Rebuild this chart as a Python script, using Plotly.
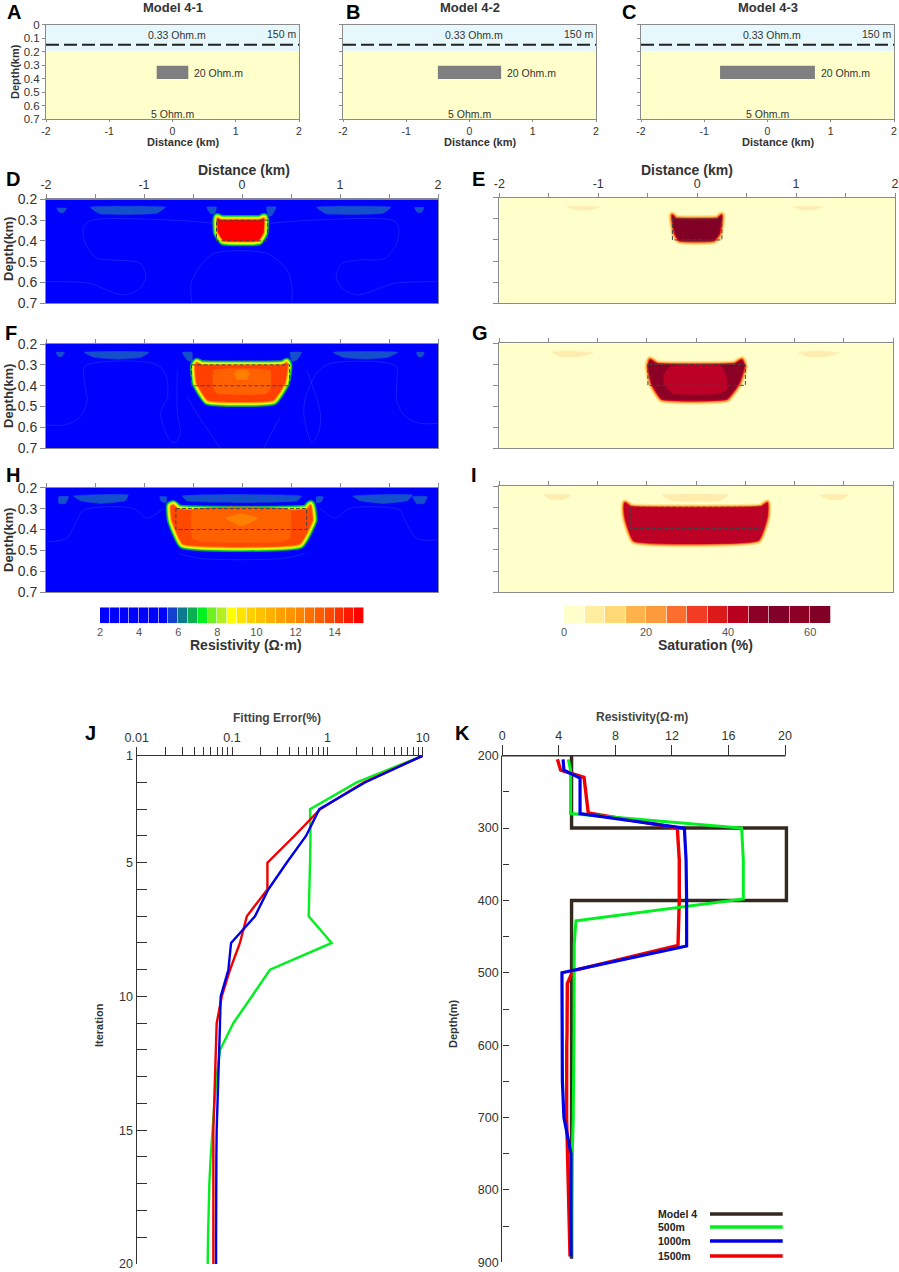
import plotly.graph_objects as go

W, H = 899, 1272

# ---- model panels A-C ----
MODEL_TITLES = ["Model 4-1", "Model 4-2", "Model 4-3"]
MODEL_BLOCK_HALF = [0.25, 0.5, 0.75]
MODEL_BLOCK_LABEL_X = [0.32, 0.58, 0.83]
MODEL_DEPTH_TICKS = [0, 0.1, 0.2, 0.3, 0.4, 0.5, 0.6, 0.7]
DIST_TICKS = [-2, -1, 0, 1, 2]
HALF_TICKS = [-2, -1.5, -1, -0.5, 0, 0.5, 1, 1.5, 2]
SECTION_DEPTH_TICKS = [0.2, 0.3, 0.4, 0.5, 0.6, 0.7]

# ---- colour classes ----
RES_EDGES = [2 + i * 0.5 for i in range(28)]
RES_COLORS = ["#0000FF"] * 7 + ["#1440D0", "#0E7A90", "#0DB050", "#00F020", "#70F020", "#B4F020", "#FFFF00",
              "#FFE400", "#FFD000", "#FFC000", "#FFB000", "#FFA000", "#FF9400", "#FF8400", "#FF7000",
              "#FF5C00", "#FF4800", "#FF3000", "#FF1800", "#FF0000"]
RES_TICKS = [2, 4, 6, 8, 10, 12, 14]
SAT_EDGES = [i * 5 for i in range(14)]
SAT_COLORS = ["#FFFFCC", "#FFEDA0", "#FED976", "#FEB24C", "#FD9A3C", "#FC6E2E", "#F23D24", "#DC1A1C",
              "#B8001F", "#8B0024", "#80002A", "#8B0024", "#800026"]
SAT_TICKS = [0, 20, 40, 60]

# ---- resistivity sections: outlines, (distance km, depth km) ----
D_CORE = [(-0.25, 0.29), (-0.22, 0.298), (0.19, 0.298), (0.225, 0.29), (0.22, 0.36), (0.17, 0.398), (-0.19, 0.398), (-0.245, 0.36)]
F_CORE = [(-0.46, 0.29), (-0.42, 0.30), (0.42, 0.30), (0.455, 0.29), (0.465, 0.305), (0.44, 0.385), (0.32, 0.47), (-0.35, 0.47), (-0.465, 0.385), (-0.48, 0.305)]
F_ZONE = [(-0.29, 0.325), (0.29, 0.325), (0.29, 0.42), (0.24, 0.44), (-0.24, 0.44), (-0.29, 0.42)]
F_SPOT = [(-0.08, 0.345), (-0.05, 0.325), (0.05, 0.325), (0.08, 0.345), (0.05, 0.37), (-0.05, 0.37)]
H_CORE = [(-0.70, 0.283), (-0.65, 0.303), (0.66, 0.303), (0.70, 0.283), (0.72, 0.354), (0.59, 0.469), (-0.604, 0.469), (-0.716, 0.354), (-0.727, 0.288)]
H_ZONE = [(-0.51, 0.305), (0.49, 0.305), (0.49, 0.44), (0.4, 0.46), (-0.42, 0.46), (-0.51, 0.44)]
H_SPOT = [(-0.17, 0.345), (0, 0.325), (0.17, 0.345), (0, 0.385)]

D_PATCHES = [
    [(-1.89, 0.243), (-1.79, 0.243), (-1.82, 0.264), (-1.86, 0.264)],
    [(-1.55, 0.238), (-0.78, 0.238), (-0.87, 0.267), (-1.45, 0.27)],
    [(-0.36, 0.238), (-0.26, 0.238), (-0.28, 0.27), (-0.32, 0.27)],
    [(0.25, 0.238), (0.35, 0.238), (0.30, 0.28), (0.27, 0.28)],
    [(0.76, 0.238), (1.52, 0.238), (1.44, 0.267), (0.86, 0.27)],
    [(1.76, 0.24), (1.86, 0.24), (1.83, 0.264), (1.79, 0.264)],
]
F_PATCHES = [
    [(-1.9, 0.24), (-1.81, 0.24), (-1.84, 0.261), (-1.87, 0.261)],
    [(-1.61, 0.24), (-0.95, 0.24), (-1.03, 0.264), (-1.27, 0.273), (-1.51, 0.264)],
    [(-0.61, 0.24), (-0.51, 0.24), (-0.51, 0.285), (-0.56, 0.277)],
    [(0.49, 0.24), (0.61, 0.24), (0.56, 0.277), (0.51, 0.285)],
    [(0.93, 0.24), (1.59, 0.24), (1.49, 0.264), (1.25, 0.273), (1.03, 0.264)],
    [(1.78, 0.24), (1.86, 0.24), (1.84, 0.261), (1.80, 0.261)],
]
H_PATCHES = [
    [(-1.87, 0.243), (-1.77, 0.243), (-1.8, 0.275), (-1.87, 0.275)],
    [(-1.72, 0.24), (-1.16, 0.235), (-1.19, 0.262), (-1.45, 0.275), (-1.65, 0.262)],
    [(-0.84, 0.243), (-0.77, 0.243), (-0.77, 0.272), (-0.82, 0.267)],
    [(-0.61, 0.24), (0.61, 0.24), (0.56, 0.264), (-0.56, 0.264)],
    [(0.76, 0.243), (0.83, 0.243), (0.81, 0.267), (0.76, 0.272)],
    [(1.13, 0.24), (1.74, 0.235), (1.69, 0.262), (1.44, 0.275), (1.2, 0.262)],
    [(1.74, 0.243), (1.89, 0.243), (1.86, 0.275), (1.78, 0.275)],
]
D_FAINT = [
    [(-0.29, 0.315), (-0.73, 0.30), (-1.55, 0.303), (-1.62, 0.339), (-1.6, 0.412), (-1.48, 0.484), (-1.31, 0.492), (-1.04, 0.508), (-0.98, 0.572), (-1.04, 0.628), (-1.21, 0.66), (-1.38, 0.636), (-1.55, 0.604), (-1.99, 0.596)],
    [(0.29, 0.315), (0.73, 0.30), (1.55, 0.303), (1.6, 0.339), (1.58, 0.412), (1.46, 0.484), (1.2, 0.492), (1.02, 0.508), (0.96, 0.572), (1.02, 0.628), (1.18, 0.66), (1.36, 0.636), (1.55, 0.604), (1.99, 0.596)],
    [(-0.51, 0.7), (-0.52, 0.604), (-0.43, 0.524), (-0.29, 0.46), (0.25, 0.46), (0.46, 0.54), (0.51, 0.62), (0.51, 0.7)],
]
F_FAINT = [
    [(-2, 0.588), (-1.81, 0.588), (-1.66, 0.553), (-1.58, 0.473), (-1.61, 0.377), (-1.6, 0.305), (-0.9, 0.293), (-0.78, 0.341), (-0.76, 0.452), (-0.83, 0.532), (-0.76, 0.644), (-0.69, 0.673), (-0.63, 0.628), (-0.66, 0.532), (-0.66, 0.325)],
    [(2, 0.58), (1.81, 0.58), (1.66, 0.545), (1.58, 0.473), (1.58, 0.377), (1.57, 0.305), (0.9, 0.293), (0.76, 0.341), (0.65, 0.452), (0.63, 0.532), (0.68, 0.644), (0.71, 0.673), (0.78, 0.628), (0.8, 0.532), (0.66, 0.325)],
    [(-0.56, 0.452), (-0.42, 0.564), (-0.22, 0.7)],
    [(0.39, 0.548), (0.22, 0.7)],
]
H_FAINT = [
    [(-1.99, 0.458), (-1.79, 0.442), (-1.68, 0.354), (-1.62, 0.307), (-1.11, 0.299), (-0.97, 0.346), (-0.8, 0.299)],
    [(1.99, 0.45), (1.78, 0.442), (1.66, 0.354), (1.61, 0.307), (1.1, 0.299), (0.95, 0.346), (0.8, 0.299)],
    [(-0.65, 0.514), (-0.43, 0.538), (0.42, 0.538), (0.64, 0.514)],
]

# ---- saturation sections ----
E_CORE = [(-0.25, 0.285), (-0.22, 0.30), (0.21, 0.30), (0.245, 0.285), (0.22, 0.37), (0.17, 0.40), (-0.18, 0.40), (-0.22, 0.37)]
G_CORE = [(-0.466, 0.28), (-0.4, 0.30), (0.395, 0.30), (0.463, 0.28), (0.486, 0.311), (0.43, 0.391), (0.31, 0.463), (-0.348, 0.463), (-0.449, 0.391), (-0.483, 0.311)]
G_ZONE = [(-0.25, 0.307), (0.25, 0.307), (0.31, 0.36), (0.31, 0.423), (0.21, 0.442), (-0.23, 0.442), (-0.33, 0.391), (-0.32, 0.34)]
I_CORE = [(-0.72, 0.282), (-0.67, 0.30), (0.665, 0.30), (0.72, 0.282), (0.715, 0.345), (0.63, 0.452), (-0.63, 0.455), (-0.71, 0.36), (-0.725, 0.31)]
E_PATCHES = [
    [(-1.32, 0.243), (-0.98, 0.243), (-1.08, 0.258), (-1.22, 0.258)],
    [(0.96, 0.243), (1.28, 0.243), (1.18, 0.258), (1.06, 0.258)],
]
G_PATCHES = [
    [(-1.47, 0.24), (-1.28, 0.235), (-1.04, 0.245), (-1.18, 0.264), (-1.38, 0.264)],
    [(1.04, 0.245), (1.24, 0.235), (1.46, 0.245), (1.32, 0.264), (1.14, 0.264)],
]
I_PATCHES = [
    [(-1.55, 0.242), (-1.27, 0.242), (-1.34, 0.263), (-1.48, 0.263)],
    [(-0.35, 0.242), (0.33, 0.242), (0.24, 0.269), (-0.26, 0.269)],
    [(1.26, 0.242), (1.55, 0.242), (1.48, 0.263), (1.34, 0.263)],
]

# dashed target box half widths for the three models
BOX_LIMITS = {"D": (-0.26, 0.26), "E": (-0.25, 0.25), "F": (-0.515, 0.485), "G": (-0.49, 0.5), "H": (-0.675, 0.66), "I": (-0.67, 0.665)}

# ---- J: fitting error per iteration ----
ITERATIONS = list(range(1, 21))
ERR_500 = [10, 2.03, 0.658, 0.665, 0.658, 0.647, 0.637, 1.11, 0.25, 0.161, 0.103, 0.0748, 0.069, 0.0653, 0.0622, 0.0597, 0.0578, 0.0565, 0.056, 0.0556]
ERR_1000 = [10, 2.48, 0.824, 0.597, 0.374, 0.24, 0.174, 0.0977, 0.0916, 0.076, 0.0748, 0.073, 0.072, 0.0702, 0.069, 0.0685, 0.068, 0.068, 0.068, 0.068]
ERR_1500 = [10, 2.39, 0.84, 0.45, 0.235, 0.235, 0.143, 0.121, 0.0953, 0.078, 0.069, 0.068, 0.0665, 0.065, 0.0637, 0.0637, 0.0637, 0.0637, 0.0637, 0.0637]
ERR_MINOR_TICKS = [0.01, 0.02, 0.03, 0.04, 0.05, 0.06, 0.07, 0.08, 0.09,
                   0.1, 0.2, 0.3, 0.4, 0.5, 0.6, 0.7, 0.8, 0.9,
                   1, 2, 3, 4, 5, 6, 7, 8, 9, 10]
ERR_LABELS = {0.01: "0.01", 0.1: "0.1", 1: "1", 10: "10"}
ITER_LABELS = {1: "1", 5: "5", 10: "10", 15: "15", 20: "20"}

# ---- K: resistivity against depth ----
MODEL_RHO = [4.9, 4.9, 20.1, 20.1, 4.9, 4.9]
MODEL_DEPTH = [200, 300, 300, 400, 400, 895]
RHO_500 = [4.67, 4.83, 4.83, 16.93, 17.05, 17.05, 5.21, 5.09, 5.07, 5.07, 5.02, 4.95, 4.93, 4.86]
DEPTH_500 = [205, 220, 280, 300, 344, 398, 428, 460, 580, 600, 700, 750, 800, 892]
RHO_1000 = [4.3, 4.36, 5.5, 5.5, 12.88, 13.0, 13.04, 13.04, 4.22, 4.22, 4.22, 4.25, 4.36, 4.86, 4.86, 4.86]
DEPTH_1000 = [205, 220, 231, 280, 300, 344, 400, 463, 500, 580, 600, 650, 700, 750, 800, 892]
RHO_1500 = [3.9, 4.13, 5.78, 5.97, 6.08, 12.38, 12.52, 12.52, 12.43, 5.0, 4.6, 4.58, 4.56, 4.55, 4.62, 4.7, 4.79]
DEPTH_1500 = [205, 220, 230, 261, 279, 300, 344, 400, 462, 497, 515, 584, 600, 700, 750, 800, 892]
RHO_TICKS = [0, 4, 8, 12, 16, 20]
DEPTH_TICKS = [200, 250, 300, 350, 400, 450, 500, 550, 600, 650, 700, 750, 800, 850, 900]
DEPTH_LABELS = {200: "200", 300: "300", 400: "400", 500: "500", 600: "600", 700: "700", 800: "800", 900: "900"}
LEGEND_NAMES = ["Model 4", "500m", "1000m", "1500m"]

FONT = "Liberation Sans"
TEXT = "#333333"
GRAY_AXIS = "#8A8A8A"
BLACK_LINE = "#33291F"
GREEN = "#00F020"
BLUE = "#0000E6"
RED = "#F00000"

fig = go.Figure()
layout_axes = {}
shapes = []
notes = []
axis_count = 0


def note(x, y, text, size=11, bold=False, color=TEXT, angle=0, xanchor="center"):
    label = f"<b>{text}</b>" if bold else text
    notes.append(dict(x=x / W, y=1 - y / H, xref="paper", yref="paper", text=label, showarrow=False,
                      xanchor=xanchor, yanchor="middle", textangle=angle, borderpad=0,
                      font=dict(family=FONT, size=size, color=color)))


def new_axes(left, right, top, bottom, xopts, yopts):
    global axis_count
    axis_count += 1
    n = axis_count
    xname, yname = f"xaxis{n}", f"yaxis{n}"
    xopts = dict(xopts, domain=[left / W, right / W], anchor=f"y{n}", automargin=False)
    yopts = dict(yopts, domain=[1 - bottom / H, 1 - top / H], anchor=f"x{n}", automargin=False)
    layout_axes[xname] = xopts
    layout_axes[yname] = yopts
    return f"x{n}", f"y{n}"


def frame_axis(**kw):
    base = dict(showgrid=False, zeroline=False, showline=True, mirror=True, linecolor=GRAY_AXIS, linewidth=1,
                ticks="outside", tickcolor=GRAY_AXIS, tickwidth=1, fixedrange=True,
                tickfont=dict(family=FONT, color=TEXT))
    base.update(kw)
    return base


def add_rect(xa, ya, x0, x1, y0, y1, color):
    shapes.append(dict(type="rect", xref=xa, yref=ya, x0=x0, x1=x1, y0=y0, y1=y1,
                       fillcolor=color, line=dict(width=0), layer="below"))


def add_poly(xa, ya, pts, color, width=0):
    closed = pts + pts[:1]
    fig.add_trace(go.Scatter(x=[p[0] for p in closed], y=[p[1] for p in closed], xaxis=xa, yaxis=ya,
                             mode="lines", fill="toself", fillcolor=color,
                             line=dict(color=color, width=width, shape="spline", smoothing=0.35),
                             showlegend=False, hoverinfo="skip"))


def add_section(left, right, top, bottom, bg, patches, patch_color, halos, core, core_color, zones, box, faint,
                show_x=False, show_y=False):
    xa, ya = new_axes(
        left, right, top, bottom,
        frame_axis(range=[-2, 2], side="top", tickvals=HALF_TICKS,
                   ticktext=[str(v) if v in DIST_TICKS else "" for v in HALF_TICKS],
                   showticklabels=show_x, ticklen=4, tickfont=dict(family=FONT, size=12.5, color=TEXT)),
        frame_axis(range=[0.7, 0.2], tickvals=SECTION_DEPTH_TICKS, ticklen=5,
                   ticktext=[f"{v:.1f}" for v in SECTION_DEPTH_TICKS], showticklabels=show_y,
                   tickfont=dict(family=FONT, size=14, color=TEXT)))
    add_rect(xa, ya, -2, 2, 0.2, 0.7, bg)
    for line in faint:
        fig.add_trace(go.Scatter(x=[p[0] for p in line], y=[p[1] for p in line], xaxis=xa, yaxis=ya, mode="lines",
                                 line=dict(color="#1A30F8", width=0.7, shape="spline", smoothing=0.8),
                                 showlegend=False, hoverinfo="skip"))
    for patch in patches:
        add_poly(xa, ya, patch, patch_color, 0.5)
    for color, width in halos:
        add_poly(xa, ya, core, color, width)
    add_poly(xa, ya, core, core_color, 0)
    for pts, color in zones:
        add_poly(xa, ya, pts, color, 0)
    bx = [box[0], box[1], box[1], box[0], box[0]]
    by = [0.3, 0.3, 0.4, 0.4, 0.3]
    fig.add_trace(go.Scatter(x=bx, y=by, xaxis=xa, yaxis=ya, mode="lines",
                             line=dict(color="#444444", width=1, dash="4px,2px"), showlegend=False, hoverinfo="skip"))


def add_colorbar(left, right, top, bottom, edges, colors, ticks):
    n = len(colors)
    scale = []
    for i, c in enumerate(colors):
        scale += [[i / n, c], [(i + 1) / n, c]]
    xa, ya = new_axes(left, right, top, bottom,
                      dict(range=[edges[0], edges[-1]], tickvals=ticks, showgrid=False, zeroline=False, fixedrange=True,
                           showline=False, ticks="", ticklabelstandoff=1,
                           tickfont=dict(family=FONT, size=11, color="#555555")),
                      dict(range=[0, 1], visible=False, fixedrange=True))
    fig.add_trace(go.Heatmap(z=[[i + 0.5 for i in range(n)]], x=edges, y=[0, 1], xaxis=xa, yaxis=ya,
                             colorscale=scale, zmin=0, zmax=n, showscale=False, xgap=0.6, hoverinfo="skip"))


# ---- model panels ----
model_lefts = [46, 343, 641]
for i in range(3):
    left = model_lefts[i]
    xa, ya = new_axes(
        left, left + 253, 24.5, 119,
        frame_axis(range=[-2, 2], tickvals=DIST_TICKS, ticktext=[str(v) for v in DIST_TICKS], ticklen=2,
                   tickfont=dict(family=FONT, size=10.5, color=TEXT)),
        frame_axis(range=[0.7, 0], tickvals=MODEL_DEPTH_TICKS, ticklen=3,
                   ticktext=[str(v) for v in MODEL_DEPTH_TICKS], showticklabels=(i == 0),
                   tickfont=dict(family=FONT, size=11.5, color=TEXT)))
    add_rect(xa, ya, -2, 2, 0, 0.2, "#E6F8FC")
    add_rect(xa, ya, -2, 2, 0.2, 0.7, "#FFFFCC")
    half = MODEL_BLOCK_HALF[i]
    add_rect(xa, ya, -half, half, 0.305, 0.404, "#7F7F7F")
    fig.add_trace(go.Scatter(x=[-2, 2], y=[0.15, 0.15], xaxis=xa, yaxis=ya, mode="lines",
                             line=dict(color="#222222", width=2, dash="13px,5px"), showlegend=False, hoverinfo="skip"))
    for tx, ty, tt, anchor in [(0.07, 0.075, "0.33 Ohm.m", "center"), (1.73, 0.07, "150 m", "center"),
                               (MODEL_BLOCK_LABEL_X[i], 0.362, "20 Ohm.m", "left"), (0, 0.66, "5 Ohm.m", "center")]:
        px = left + (tx + 2) / 4 * 253
        py = 24.5 + ty / 0.7 * 94.5
        note(px, py, tt, size=10.5, xanchor=anchor)
    note(left + 127, 8, MODEL_TITLES[i], size=13, bold=True)
    note(left + 137, 142, "Distance (km)", size=11, bold=True)
note(15, 72, "Depth(km)", size=11, bold=True, angle=-90)

# ---- sections ----
RES_HALO = [("#0E7A90", 10), ("#0DB050", 9), ("#00F020", 7.5), ("#B4F020", 6.5), ("#FFFF00", 5), ("#FFC000", 3), ("#FF8000", 1.5)]
SAT_HALO = [("#FFEDA0", 9), ("#FED976", 7.5), ("#FD9A3C", 5.5), ("#F23D24", 3.5), ("#C00020", 2)]
RES_PATCH = "#1450CC"
SAT_PATCH = "#FFEDB0"

add_section(46, 438, 199.3, 303.3, "#0000FF", D_PATCHES, RES_PATCH, RES_HALO, D_CORE, "#FF0000", [], BOX_LIMITS["D"], D_FAINT, True, True)
add_section(46, 438, 344, 448.3, "#0000FF", F_PATCHES, RES_PATCH, RES_HALO, F_CORE, "#FF4000",
            [(F_ZONE, "#FF6000"), (F_SPOT, "#FF8000")], BOX_LIMITS["F"], F_FAINT, False, True)
add_section(46, 438, 487.7, 592.3, "#0000FF", H_PATCHES, RES_PATCH, RES_HALO, H_CORE, "#FF4800",
            [(H_ZONE, "#FF6000"), (H_SPOT, "#FF8000")], BOX_LIMITS["H"], H_FAINT, False, True)
add_section(499.3, 895, 197.7, 303.3, "#FFFFCC", E_PATCHES, SAT_PATCH, SAT_HALO, E_CORE, "#800026", [], BOX_LIMITS["E"], [], True, False)
add_section(499.3, 893, 343.3, 448.3, "#FFFFCC", G_PATCHES, SAT_PATCH, SAT_HALO, G_CORE, "#8B0024",
            [(G_ZONE, "#BD0026")], BOX_LIMITS["G"], [], False, False)
add_section(499.3, 893, 486, 592.3, "#FFFFCC", I_PATCHES, SAT_PATCH, SAT_HALO, I_CORE, "#BD0026", [], BOX_LIMITS["I"], [], False, False)

note(244, 170, "Distance (km)", size=14, bold=True)
note(687, 170, "Distance (km)", size=14, bold=True)
note(8, 249, "Depth(km)", size=13, bold=True, angle=-90)
note(8, 396, "Depth(km)", size=13, bold=True, angle=-90)
note(8, 540, "Depth(km)", size=13, bold=True, angle=-90)

add_colorbar(100, 364, 607.3, 623.3, RES_EDGES, RES_COLORS, RES_TICKS)
add_colorbar(564, 830.7, 606, 623, SAT_EDGES, SAT_COLORS, SAT_TICKS)
note(245.7, 645, "Resistivity (Ω·m)", size=14, bold=True)
note(705.7, 645, "Saturation (%)", size=14, bold=True)


# ---- line panels ----
def line_axis(**kw):
    base = dict(showgrid=False, zeroline=False, showline=True, mirror=False, linecolor="#333333", linewidth=1.4,
                tickcolor="#333333", tickwidth=1.2, fixedrange=True, tickfont=dict(family=FONT, size=12.5, color=TEXT))
    base.update(kw)
    return base


xa, ya = new_axes(136.7, 422.7, 755.7, 1264,
                  line_axis(type="log", range=[-2, 1], side="top", ticks="outside", ticklen=8,
                            tickvals=ERR_MINOR_TICKS, ticktext=[ERR_LABELS.get(v, "") for v in ERR_MINOR_TICKS]),
                  line_axis(range=[20, 1], ticks="inside", ticklen=10, tickvals=ITERATIONS,
                            ticktext=[ITER_LABELS.get(v, "") for v in ITERATIONS]))
for vals, color in [(ERR_500, GREEN), (ERR_1500, RED), (ERR_1000, BLUE)]:
    fig.add_trace(go.Scatter(x=vals, y=ITERATIONS, xaxis=xa, yaxis=ya, mode="lines",
                             line=dict(color=color, width=2.4), showlegend=False, cliponaxis=False, hoverinfo="skip"))
note(277, 718, "Fitting Error(%)", size=12, bold=True, color="#444444")
note(99, 1025, "Iteration", size=11, bold=True, angle=-90)

# x range runs a little past 20 so the model line at 20.1 is kept; the spine stops at 20 (drawn below)
xa, ya = new_axes(502.3, 793.5, 755.7, 1262.3,
                  line_axis(range=[0, 20.6], side="top", ticks="outside", ticklen=10, tickvals=RHO_TICKS, showline=False),
                  line_axis(range=[900, 200], ticks="inside", ticklen=6, tickvals=DEPTH_TICKS,
                            ticktext=[DEPTH_LABELS.get(v, "") for v in DEPTH_TICKS]))
shapes.append(dict(type="line", xref="paper", yref="paper", x0=501.6 / W, x1=785.6 / W, y0=1 - 755.7 / H, y1=1 - 755.7 / H,
                   line=dict(color="#333333", width=1.4)))
for rho, depth, color, width in [(MODEL_RHO, MODEL_DEPTH, BLACK_LINE, 3.4), (RHO_1500, DEPTH_1500, RED, 3.4),
                                 (RHO_500, DEPTH_500, GREEN, 3), (RHO_1000, DEPTH_1000, BLUE, 3.2)]:
    fig.add_trace(go.Scatter(x=rho, y=depth, xaxis=xa, yaxis=ya, mode="lines",
                             line=dict(color=color, width=width), showlegend=False, cliponaxis=False, hoverinfo="skip"))
note(642, 717, "Resistivity(Ω·m)", size=12, bold=True, color="#444444")
note(453, 1024, "Depth(m)", size=11, bold=True, angle=-90)

# hand placed legend inside K
legend_y = [1214, 1227, 1241, 1256]
legend_colors = [BLACK_LINE, GREEN, BLUE, RED]
for name, ly, c in zip(LEGEND_NAMES, legend_y, legend_colors):
    note(657, ly, name, size=10.5, bold=True, color="#222222", xanchor="left")
    shapes.append(dict(type="line", xref="paper", yref="paper", x0=710 / W, x1=782.7 / W, y0=1 - ly / H, y1=1 - ly / H,
                       line=dict(color=c, width=3.5)))

# panel letters
for letter, lx, ly in [("A", 14, 12), ("B", 353, 12), ("C", 629, 12), ("D", 13, 179), ("E", 478, 179),
                       ("F", 11, 333), ("G", 480, 333), ("H", 13, 475), ("I", 474, 475), ("J", 90, 733), ("K", 462, 733)]:
    note(lx, ly, letter, size=20, bold=True, color="#000000")

fig.update_layout(template="none", width=W, height=H, margin=dict(l=0, r=0, t=0, b=0), paper_bgcolor="white",
                  plot_bgcolor="rgba(0,0,0,0)", showlegend=False, shapes=shapes, annotations=notes, **layout_axes)

fig.write_html("out.html", config={"displayModeBar": False}, post_script="document.body.style.margin='0';")
